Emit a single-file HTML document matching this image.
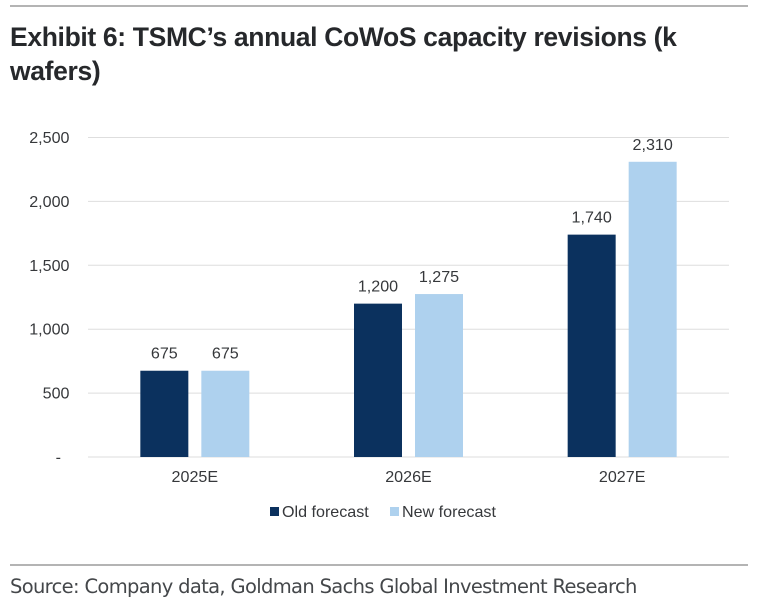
<!DOCTYPE html>
<html>
<head>
<meta charset="utf-8">
<style>
html,body{margin:0;padding:0;background:#fff;}
#page{position:relative;width:757px;height:614px;overflow:hidden;background:#fff;}
.rule{position:absolute;left:10px;width:738px;height:2px;background:#b4b4b4;}
#title{position:absolute;left:10px;top:20px;width:740px;font:bold 26.5px/34px "Liberation Sans",sans-serif;color:#26282b;letter-spacing:-0.35px;}
#source{position:absolute;left:10px;top:575px;font:19.5px/24px "DejaVu Sans","Liberation Sans",sans-serif;color:#44474a;letter-spacing:-0.66px;white-space:nowrap;}
svg{position:absolute;left:0;top:0;}
svg text{font-family:"Liberation Sans",sans-serif;font-size:16.1px;fill:#36383b;}
</style>
</head>
<body>
<div id="page">
  <div class="rule" style="top:5px"></div>
  <div id="title">Exhibit 6: TSMC’s annual CoWoS capacity revisions (k wafers)</div>
  <svg id="chart" width="757" height="614"></svg>
  <div class="rule" style="top:564px"></div>
  <div id="source">Source: Company data, Goldman Sachs Global Investment Research</div>
</div>
<script>
const categories = ['2025E', '2026E', '2027E'];
const oldForecast = [675, 1200, 1740];
const newForecast = [675, 1275, 2310];
const valueLabelsOld = ['675', '1,200', '1,740'];
const valueLabelsNew = ['675', '1,275', '2,310'];
const yTicks = [0, 500, 1000, 1500, 2000, 2500];
const yTickLabels = ['-', '500', '1,000', '1,500', '2,000', '2,500'];

const svg = document.getElementById('chart');
const NS = 'http://www.w3.org/2000/svg';
const plotLeft = 88, plotRight = 729, plotBottom = 457, plotTop = 137.5, yMax = 2500;
const barW = 48, barGap = 13;
const colorOld = '#0b315e', colorNew = '#aed1ee';

function yScale(v) { return plotBottom - (v / yMax) * (plotBottom - plotTop); }
function xCenter(i) { return plotLeft + (i + 0.5) * (plotRight - plotLeft) / categories.length; }
function make(tag, attrs, text) {
  const el = document.createElementNS(NS, tag);
  for (const k in attrs) el.setAttribute(k, attrs[k]);
  if (text !== undefined) el.textContent = text;
  svg.appendChild(el);
  return el;
}

yTicks.forEach(function (t, i) {
  const y = yScale(t);
  const line = make('line', { x1: plotLeft, x2: plotRight, y1: y, y2: y, stroke: '#dedede', 'stroke-width': 1 });
  
  
  const labelX = t === 0 ? 61 : 69.5;
  const label = make('text', { x: labelX, y: y + 5.5, 'text-anchor': 'end' }, yTickLabels[i]);
  
  
});

categories.forEach(function (c, i) {
  const cx = xCenter(i);
  const xOld = cx - barGap / 2 - barW;
  const xNew = cx + barGap / 2;
  const barOld = make('rect', { x: xOld, y: yScale(oldForecast[i]), width: barW, height: plotBottom - yScale(oldForecast[i]), fill: colorOld });
  
  
  const barNew = make('rect', { x: xNew, y: yScale(newForecast[i]), width: barW, height: plotBottom - yScale(newForecast[i]), fill: colorNew });
  
  
  const labelOld = make('text', { x: xOld + barW / 2, y: yScale(oldForecast[i]) - 12, 'text-anchor': 'middle' }, valueLabelsOld[i]);
  
  
  const labelNew = make('text', { x: xNew + barW / 2, y: yScale(newForecast[i]) - 12, 'text-anchor': 'middle' }, valueLabelsNew[i]);
  
  
  const catLabel = make('text', { x: cx, y: 482, 'text-anchor': 'middle' }, c);
  
  
});

const swatchOld = make('rect', { x: 270, y: 507, width: 9, height: 9, fill: colorOld });


const legendOld = make('text', { x: 282, y: 517 }, 'Old forecast');


const swatchNew = make('rect', { x: 390, y: 507, width: 9, height: 9, fill: colorNew });


const legendNew = make('text', { x: 402, y: 517 }, 'New forecast');


</script>
</body>
</html>
